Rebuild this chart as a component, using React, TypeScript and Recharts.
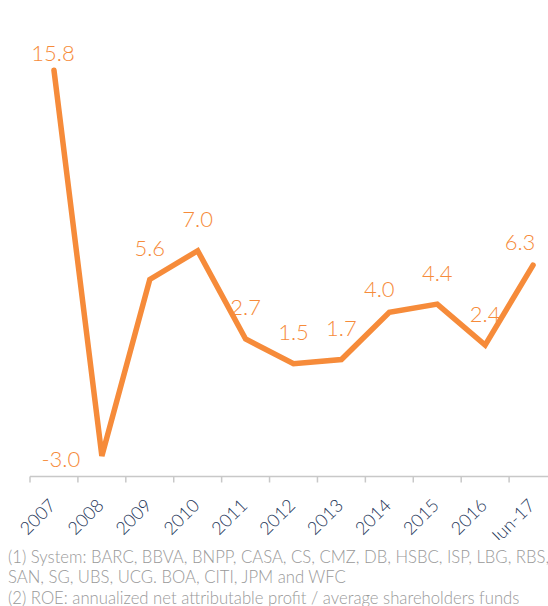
import React from 'react';
import { LineChart, Line, XAxis, YAxis, LabelList } from 'recharts';

const categories = ['2007', '2008', '2009', '2010', '2011', '2012', '2013', '2014', '2015', '2016', 'Jun-17'];
const roe = [15.8, -3.0, 5.6, 7.0, 2.7, 1.5, 1.7, 4.0, 4.4, 2.4, 6.3];
const footnotes = [
    '(1) System: BARC, BBVA, BNPP, CASA, CS, CMZ, DB, HSBC, ISP, LBG, RBS,',
    'SAN, SG, UBS, UCG. BOA, CITI, JPM and WFC',
    '(2) ROE: annualized net attributable profit / average shareholders funds',
];

const data = categories.map((name, i) => ({ name, roe: roe[i] }));

const CHART_W = 560;
const CHART_H = 540;
const MARGIN = { top: 25, right: 3, left: 30, bottom: 0 };
const BAND = (CHART_W - MARGIN.left - MARGIN.right) / categories.length;
const FONT = 'Lato, "Open Sans", sans-serif';
const ORANGE = '#F68B3A';
const NOTE_TOPS = [547, 567, 588];

// label tweaks where the original moved a label off its default spot
const LABEL_NUDGE: Record<number, { dx: number; dy: number }> = {
    0: { dx: -1, dy: 14 },
    1: { dx: -41, dy: 35 },
    7: { dx: -10, dy: 8 },
    10: { dx: -13, dy: 8 },
};

function PointLabel(props: any) {
    const { x, y, value, index } = props;
    const nudge = LABEL_NUDGE[index] ?? { dx: 0, dy: 0 };
    return (
        <text
            x={x + nudge.dx}
            y={y - 23.5 + nudge.dy}
            textAnchor="middle"
            fontSize={22}
            fontFamily={FONT}
            fontWeight={300}
            fill={ORANGE}
        >
            {Number(value).toFixed(1)}
        </text>
    );
}

function CategoryTick(props: any) {
    const { x, y, payload } = props;
    const axisY = y - 8;
    const tx = x + 3;
    const ty = y + 22;
    return (
        <g>
            <line x1={x - BAND / 2} y1={axisY} x2={x - BAND / 2} y2={axisY + 6} stroke="#c8c8c8" strokeWidth={1.5} />
            <text
                x={tx}
                y={ty}
                textAnchor="end"
                transform={`rotate(-45, ${tx}, ${ty})`}
                fontSize={18}
                fontFamily={FONT}
                fontWeight={300}
                fill="#26375A"
            >
                {payload.value}
            </text>
        </g>
    );
}

export default function App() {
    return (
        <div style={{ position: 'absolute', left: 0, top: 0, width: 548, height: 606, overflow: 'hidden', background: '#fff' }}>
            <LineChart width={CHART_W} height={CHART_H} data={data} margin={MARGIN}>
                <XAxis
                    dataKey="name"
                    interval={0}
                    padding={{ left: BAND / 2, right: BAND / 2 }}
                    tickSize={6}
                    tickMargin={2}
                    tickLine={false}
                    axisLine={{ stroke: '#c8c8c8', strokeWidth: 1.5 }}
                    tick={<CategoryTick />}
                    height={CHART_H - 476.5}
                />
                <YAxis hide domain={[-4, 18]} type="number" />
                <Line
                    type="linear"
                    dataKey="roe"
                    stroke={ORANGE}
                    strokeWidth={5.5}
                    strokeLinecap="round"
                    strokeLinejoin="miter"
                    dot={false}
                    activeDot={false}
                    isAnimationActive={false}
                >
                    <LabelList dataKey="roe" content={<PointLabel />} />
                </Line>
            </LineChart>
            {footnotes.map((note, i) => (
                <div
                    key={i}
                    style={{
                        position: 'absolute',
                        left: 8,
                        top: NOTE_TOPS[i],
                        fontFamily: FONT,
                        fontWeight: 300,
                        fontSize: 16.7,
                        color: '#999',
                        lineHeight: '20px',
                        whiteSpace: 'nowrap',
                    }}
                >
                    {note}
                </div>
            ))}
        </div>
    );
}
